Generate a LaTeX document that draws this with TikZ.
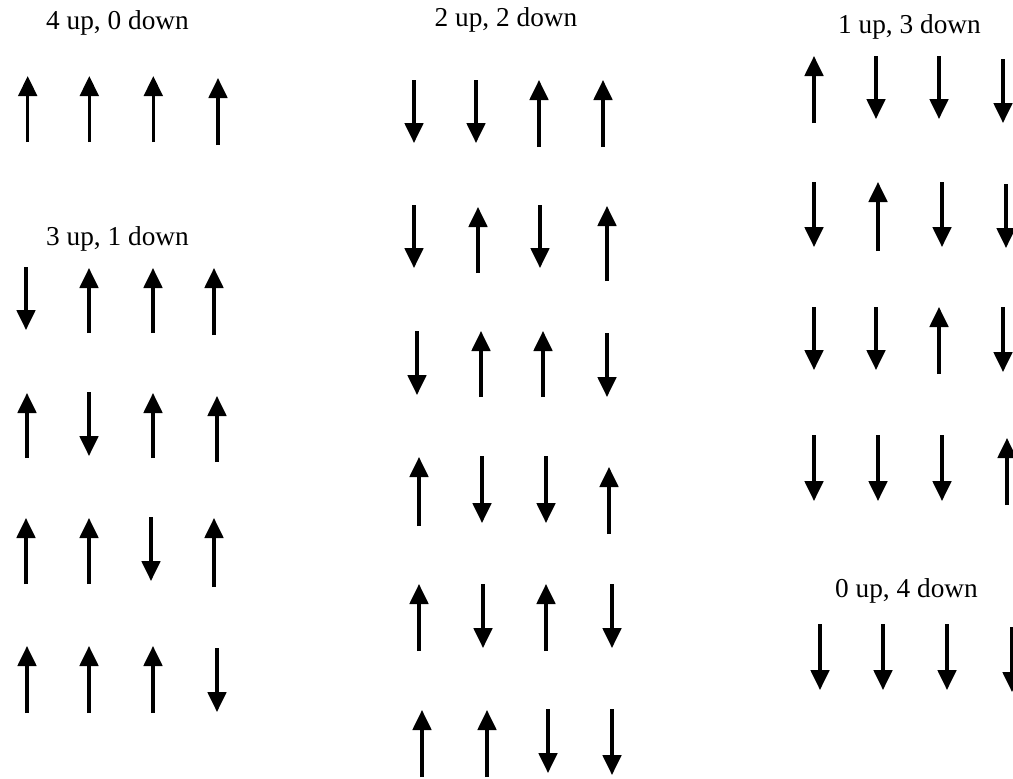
\documentclass[tikz,border=0pt]{standalone}
\usepackage{fontspec}
\setmainfont{Liberation Serif}
\usetikzlibrary{arrows.meta}

% one spin: x / top / bottom / direction (1 = up, 0 = down)
\newcommand\spinset[1]{%
  \foreach \x/\t/\b/\d in {#1}{%
    \ifnum\d=1
      \draw[spinarrow] (\x,\b) -- (\x,\t);
    \else
      \draw[spinarrow] (\x,\t) -- (\x,\b);
    \fi
  }%
}

\begin{document}
\begin{tikzpicture}[x=1pt,y=-1pt,
  spinarrow/.style={line width=3.4pt,-{Triangle[width=18.5pt,length=20pt]}},
  heading/.style={anchor=base,inner sep=0pt,font=\fontsize{27.3}{31}\selectfont}]
\useasboundingbox (0,0) rectangle (1013,779);

% ---- column 1 ----
\node[heading] (h40) at (117.5,30) {4 up, 0 down};
\spinset{27.7/76/142/1, 89.3/76/142/1, 153.3/76/142/1, 218/78/145/1}

\node[heading] (h31) at (117.5,245) {3 up, 1 down};
\spinset{26/267/330/0, 89/268/333/1, 153/268/333/1, 214/268/335/1}
\spinset{27/393/458/1, 89/392/456/0, 153/393/458/1, 217/396/462/1}
\spinset{26/518/584/1, 89/518/584/1, 151/517/581/0, 214/518/587/1}
\spinset{27/646/713/1, 89/646/713/1, 153/646/713/1, 217/648/712/0}

% ---- column 2 ----
\node[heading] (h22) at (506,27) {2 up, 2 down};
\spinset{414/80/143/0, 476/80/143/0, 539/80/147/1, 603/80/147/1}
\spinset{414/205/268/0, 478/207/273/1, 540/205/268/0, 607/206/281/1}
\spinset{417/331/395/0, 481/331/397/1, 543/331/397/1, 607/333/397/0}
\spinset{419/457/526/1, 482/456/523/0, 546/456/523/0, 609/467/534/1}
\spinset{419/584/651/1, 483/584/648/0, 546/584/651/1, 612/584/648/0}
\spinset{422/710/777/1, 487/710/777/1, 548/709/773/0, 612/709/775/0}

% ---- column 3 ----
\node[heading] (h13) at (909.5,33) {1 up, 3 down};
\spinset{814/56/123/1, 876/56/119/0, 939/56/119/0, 1003/59/123/0}
\spinset{814/182/247/0, 878/182/251/1, 942/182/247/0, 1006/184/248/0}
\spinset{814/307/370/0, 876/307/370/0, 939/307/374/1, 1003/307/372/0}
\spinset{814/435/501/0, 878/435/501/0, 942/435/501/0, 1007/438/505/1}

\node[heading] (h04) at (906.5,597) {0 up, 4 down};
\spinset{820/624/690/0, 883/624/690/0, 947/624/690/0, 1012/627/692/0}
\end{tikzpicture}
\end{document}
